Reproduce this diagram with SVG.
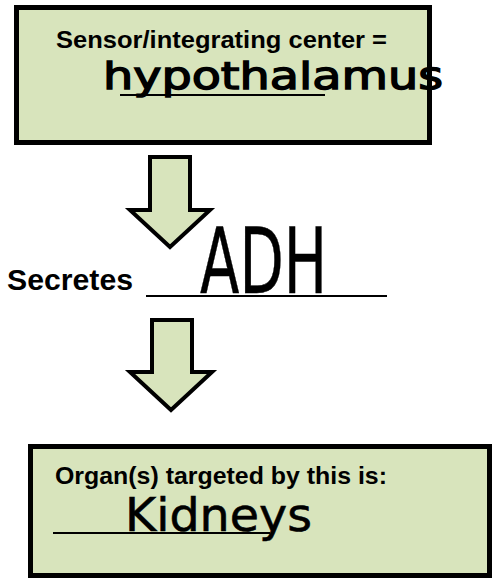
<svg xmlns="http://www.w3.org/2000/svg" width="493" height="580" viewBox="0 0 493 580">
<style>
.box{fill:#d8e4bc;stroke:#000;stroke-width:5}
.arrow{fill:#d8e4bc;stroke:#000;stroke-width:4;stroke-linejoin:miter}
.lbl{font-family:"Liberation Sans",Arial,sans-serif;font-weight:bold;fill:#000}
.hand{font-family:"DejaVu Sans","Liberation Sans",sans-serif;fill:#000;stroke:#000}
.blank{stroke:#000;stroke-width:2}
</style>
<rect width="493" height="580" fill="#fff"/>
<g id="sensor">
<rect class="box" x="16.5" y="7.5" width="413" height="135"/>
<text class="lbl" x="56" y="48" font-size="24" textLength="331" lengthAdjust="spacingAndGlyphs">Sensor/integrating center =</text>
<line class="blank" x1="120" y1="95" x2="325" y2="95"/>
<text class="hand" x="103" y="89" font-size="38" stroke-width="1.4" textLength="340" lengthAdjust="spacingAndGlyphs">hypothalamus</text>
</g>
<g id="connectors">
<path class="arrow" d="M150,157 H190 V210 H210 L170,247 L130,210 H150 Z"/>
<path class="arrow" d="M152,320 H192 V372 H212 L171,410 L130,372 H152 Z"/>
</g>
<g id="secretes">
<text class="lbl" x="7" y="290" font-size="29" textLength="126" lengthAdjust="spacingAndGlyphs">Secretes</text>
<line class="blank" x1="146" y1="296" x2="387" y2="296"/>
<text class="hand" x="200" y="293" font-size="90" stroke-width="0.5" textLength="127" lengthAdjust="spacingAndGlyphs">ADH</text>
</g>
<g id="organ">
<rect class="box" x="30.5" y="446.5" width="459" height="129"/>
<text class="lbl" x="55" y="484" font-size="24" textLength="332" lengthAdjust="spacingAndGlyphs">Organ(s) targeted by this is:</text>
<line class="blank" x1="53" y1="533" x2="270" y2="533"/>
<text class="hand" x="125" y="531" font-size="46" stroke-width="0.6" textLength="187" lengthAdjust="spacingAndGlyphs">Kidneys</text>
</g>
</svg>
